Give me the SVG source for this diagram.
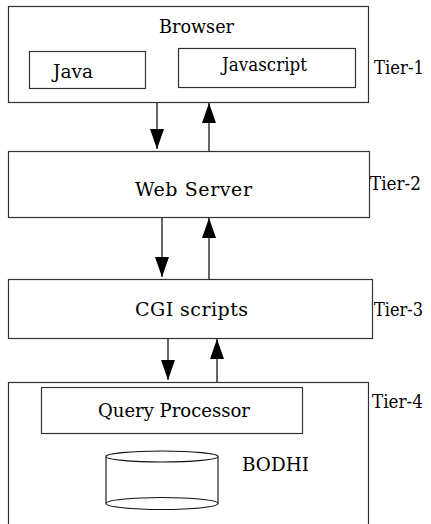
<svg xmlns="http://www.w3.org/2000/svg" width="431" height="524" viewBox="0 0 431 524">
  <style>
    .box { fill: #fff; stroke: #333; stroke-width: 1.2; }
    .drum { fill: #fff; stroke: #111; stroke-width: 1.1; }
    .link { stroke: #000; stroke-width: 1.2; fill: none; }
    text { font-family: "DejaVu Serif", "Liberation Serif", "Times New Roman", serif; font-size: 19px; fill: #000; }
  </style>
  <defs>
    <marker id="head" markerUnits="userSpaceOnUse" markerWidth="20" markerHeight="14" refX="20" refY="7" orient="auto" viewBox="0 0 20 14">
      <path d="M0,0 L20,7 L0,14 Z" fill="#000"/>
    </marker>
  </defs>

  <!-- Tier 1: browser -->
  <g id="browser">
    <rect class="box" x="8.5" y="6.5" width="360" height="96"/>
    <text x="159" y="33" textLength="75" lengthAdjust="spacingAndGlyphs">Browser</text>
    <rect class="box" x="29.5" y="51.5" width="116" height="37"/>
    <text x="53" y="78" textLength="40" lengthAdjust="spacingAndGlyphs">Java</text>
    <rect class="box" x="178.5" y="48.5" width="177" height="39"/>
    <text x="222" y="71" textLength="85" lengthAdjust="spacingAndGlyphs">Javascript</text>
  </g>
  <text id="tier1" x="374" y="74" textLength="50" lengthAdjust="spacingAndGlyphs">Tier-1</text>

  <!-- Tier 2: web server -->
  <g id="webserver">
    <rect class="box" x="8.5" y="151.5" width="361" height="66"/>
    <text x="135" y="196" textLength="117" lengthAdjust="spacing">Web Server</text>
  </g>
  <text id="tier2" x="370" y="190" textLength="51" lengthAdjust="spacingAndGlyphs">Tier-2</text>

  <!-- Tier 3: CGI scripts -->
  <g id="cgi">
    <rect class="box" x="8.5" y="279.5" width="364" height="59"/>
    <text x="135" y="316" textLength="113" lengthAdjust="spacing">CGI scripts</text>
  </g>
  <text id="tier3" x="374" y="316" textLength="49" lengthAdjust="spacingAndGlyphs">Tier-3</text>

  <!-- Tier 4: query processor and database -->
  <g id="backend">
    <rect class="box" x="8.5" y="382.5" width="360" height="150"/>
    <rect class="box" x="41.5" y="387.5" width="261" height="46"/>
    <text x="98" y="417" textLength="152" lengthAdjust="spacingAndGlyphs">Query Processor</text>
  </g>
  <g id="bodhi">
    <rect x="106" y="456.5" width="112" height="47" fill="#fff"/>
    <ellipse class="drum" cx="162" cy="503.5" rx="56" ry="6"/>
    <path class="drum" d="M106,456.5 L106,503.5 M218,456.5 L218,503.5" style="fill:none"/>
    <ellipse class="drum" cx="162" cy="456.5" rx="56" ry="5.5"/>
    <text x="242" y="471" textLength="67" lengthAdjust="spacingAndGlyphs">BODHI</text>
  </g>
  <text id="tier4" x="372" y="408" textLength="51" lengthAdjust="spacingAndGlyphs">Tier-4</text>

  <!-- request / response connectors -->
  <g id="connectors">
    <line class="link" x1="157" y1="103" x2="157" y2="149" marker-end="url(#head)"/>
    <line class="link" x1="209" y1="151" x2="209" y2="103" marker-end="url(#head)"/>
    <line class="link" x1="162" y1="218" x2="162" y2="277" marker-end="url(#head)"/>
    <line class="link" x1="209" y1="279" x2="209" y2="218" marker-end="url(#head)"/>
    <line class="link" x1="168" y1="339" x2="168" y2="380" marker-end="url(#head)"/>
    <line class="link" x1="217" y1="382" x2="217" y2="339" marker-end="url(#head)"/>
  </g>
</svg>
